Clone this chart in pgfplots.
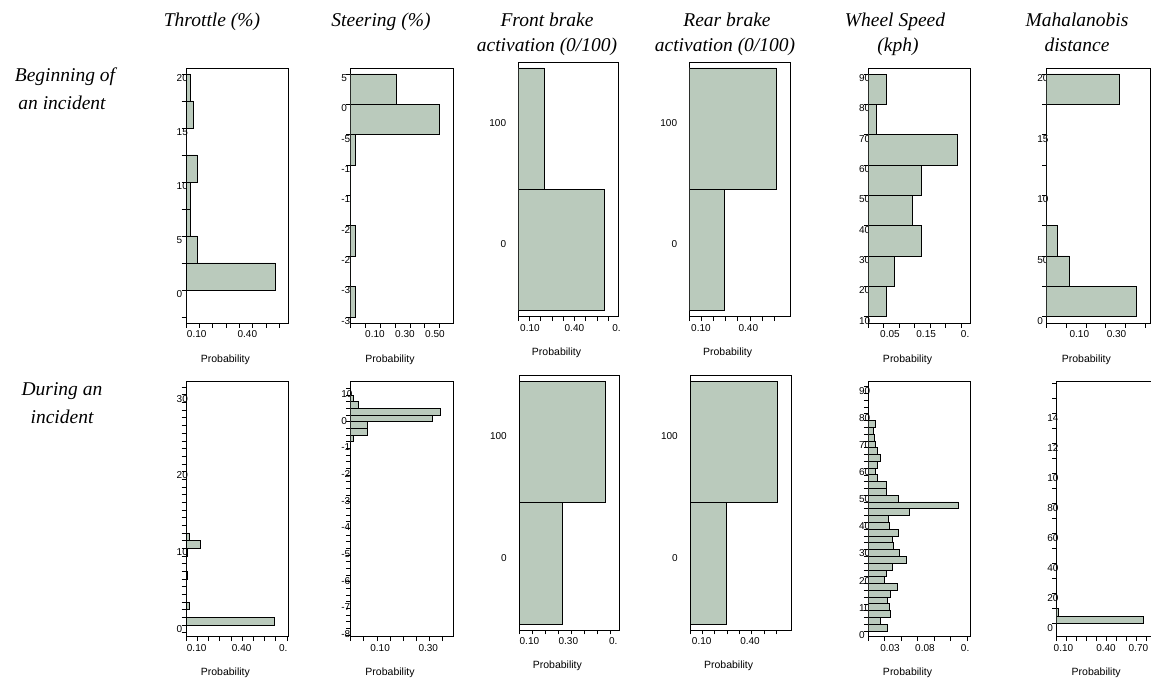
\documentclass[border=0pt]{standalone}
\usepackage{fontspec}
\setmainfont{Liberation Sans}
\newfontfamily\titlefont{Liberation Serif}
\usepackage{pgfplots}
\pgfplotsset{compat=1.18}
\definecolor{sage}{RGB}{186,202,188}
\pgfplotsset{
  panel/.style={
    scale only axis, anchor=north west,
    enlargelimits=false, xmin=0,
    axis line style={line width=0.8pt},
    tick align=outside, xtick pos=bottom, ytick pos=left,
    major tick length=4.5pt,
    tick style={black, line width=0.6pt},
    xticklabels={}, yticklabels={},
    extra x tick style={major tick length=0pt},
    extra y tick style={major tick length=0pt},
    ticklabel style={font=\fontsize{10}{12}\selectfont},
    xticklabel style={anchor=north, inner sep=0pt, yshift=-7.5pt},
    yticklabel style={anchor=west, inner sep=0pt, xshift=-9.5pt, yshift=-4pt},
    xlabel={Probability},
    xlabel style={at={(axis description cs:0.5,0)}, anchor=center, yshift=-36pt, xshift=-12pt, font=\fontsize{10.5}{12}\selectfont},
  },
  brake/.style={
    ymin=-54.9, ymax=154.7, ytick=\empty,
    extra y ticks={4.7,104.9}, extra y tick labels={0,100},
    yticklabel style={anchor=east, xshift=-2.5pt, yshift=4pt},
  },
  bar/.style={xbar interval, fill=sage, draw=black, line width=0.7pt},
}
\begin{document}
\begin{tikzpicture}
\path[use as bounding box] (0,0) rectangle (1151pt,680pt);
% titles
\begin{scope}[every node/.style={anchor=base, font=\titlefont\itshape\fontsize{19.5}{24}\selectfont}]
\node at (212pt,653.5pt) {Throttle (\%)};
\node at (381pt,653.5pt) {Steering (\%)};
\node at (547pt,653.5pt) {Front brake};
\node at (547pt,628pt) {activation (0/100)};
\node at (727pt,653.5pt) {Rear brake};
\node at (725pt,628pt) {activation (0/100)};
\node at (895pt,653.5pt) {Wheel Speed};
\node at (898pt,628pt) {(kph)};
\node at (1077pt,653.5pt) {Mahalanobis};
\node at (1077pt,628pt) {distance};
\node at (65pt,598pt) {Beginning of};
\node at (62pt,570pt) {an incident};
\node at (62pt,284pt) {During an};
\node at (62pt,256pt) {incident};
\end{scope}

% ---------- Row 1 ----------
\begin{axis}[panel, at={(186pt,611.7pt)}, width=102.7pt, height=255pt,
  xmax=0.77, ymin=-3.09, ymax=20.52,
  xtick={0,0.1,0.2,0.3,0.4,0.5,0.6,0.7},
  extra x ticks={0.08,0.46}, extra x tick labels={0.10,0.40},
  ytick={-2.5,0,2.5,5,7.5,10,12.5,15,17.5,20},
  extra y ticks={0,5,10,15,20}, extra y tick labels={0,5,10,15,20}]
\addplot[bar] coordinates {(0,-2.5) (0.67,0) (0.083,2.5) (0.03,5) (0.03,7.5) (0.083,10) (0,12.5) (0.055,15) (0.03,17.5) (0,20)};
\end{axis}

\begin{axis}[panel, at={(350.7pt,611.7pt)}, width=102.6pt, height=255pt,
  xmax=0.694, ymin=-36.06, ymax=5.93,
  xtick={0,0.1,0.2,0.3,0.4,0.5,0.6},
  extra x ticks={0.164,0.367,0.57}, extra x tick labels={0.10,0.30,0.50},
  ytick={-35,-30,-25,-20,-15,-10,-5,0,5},
  extra y ticks={5,0,-5,-10,-15,-20,-25,-30,-35}, extra y tick labels={5,0,-5,-1,-1,-2,-2,-3,-3}]
\addplot[bar] coordinates {(0.03,-35) (0,-30) (0.03,-25) (0,-20) (0,-15) (0.03,-10) (0.6,-5) (0.31,0) (0,5)};
\end{axis}

\begin{axis}[panel, brake, at={(518.3pt,617.7pt)}, width=100.4pt, height=254.4pt,
  xmax=0.895,
  xtick={0,0.1,0.2,0.3,0.4,0.5,0.6,0.7,0.8},
  extra x ticks={0.104,0.5,0.875}, extra x tick labels={0.10,0.40,0.}]
\addplot[bar] coordinates {(0.77,-50) (0.23,50) (0,150)};
\end{axis}

\begin{axis}[panel, brake, at={(689.3pt,617.7pt)}, width=100.7pt, height=254.4pt,
  xmax=0.832,
  xtick={0,0.1,0.2,0.3,0.4,0.5,0.6,0.7},
  extra x ticks={0.096,0.488}, extra x tick labels={0.10,0.40}]
\addplot[bar] coordinates {(0.29,-50) (0.716,50) (0,150)};
\end{axis}

\begin{axis}[panel, at={(868.3pt,611.7pt)}, width=102.4pt, height=255pt,
  xmax=0.331, ymin=7.8, ymax=91.9,
  xtick={0,0.05,0.1,0.15,0.2,0.25,0.3},
  extra x ticks={0.07,0.187,0.313}, extra x tick labels={0.05,0.15,0.},
  ytick={10,20,30,40,50,60,70,80,90},
  extra y ticks={10,20,30,40,50,60,70,80,90}, extra y tick labels={10,20,30,40,50,60,70,80,90}]
\addplot[bar] coordinates {(0.057,10) (0.084,20) (0.172,30) (0.141,40) (0.172,50) (0.288,60) (0.027,70) (0.057,80) (0,90)};
\end{axis}

\begin{axis}[panel, at={(1046.7pt,611.7pt)}, width=103.3pt, height=255pt,
  xmax=0.525, ymin=-0.55, ymax=20.47,
  xtick={0,0.1,0.2,0.3,0.4,0.5},
  extra x ticks={0.166,0.355}, extra x tick labels={0.10,0.30},
  ytick={0,2.5,5,7.5,10,12.5,15,17.5,20},
  extra y ticks={0,5,10,15,20}, extra y tick labels={0,50,10,15,20}]
\addplot[bar] coordinates {(0.457,0) (0.115,2.5) (0.054,5) (0,7.5) (0,10) (0,12.5) (0,15) (0.369,17.5) (0,20)};
\end{axis}

% ---------- Row 2 ----------
\begin{axis}[panel, at={(186pt,298.3pt)}, width=102.7pt, height=255pt,
  xmax=0.917, ymin=-1.52, ymax=31.7,
  xtick={0,0.1,0.2,0.3,0.4,0.5,0.6,0.7,0.8,0.9},
  extra x ticks={0.095,0.497,0.869}, extra x tick labels={0.10,0.40,0.},
  ytick={-1,0,...,31},
  extra y ticks={0,10,20,30}, extra y tick labels={0,10,20,30}]
\addplot[bar] coordinates {(0.79,0) (0,1) (0.027,2) (0,3) (0,4) (0,5) (0.012,6) (0,7) (0,8) (0.012,9) (0.131,10) (0.027,11) (0,12)};
\end{axis}

\begin{axis}[panel, at={(350.7pt,298.3pt)}, width=102.6pt, height=255pt,
  xmax=0.471, ymin=-80.6, ymax=15,
  xtick={0,0.06,0.12,0.18,0.24,0.30,0.36,0.42},
  extra x ticks={0.135,0.356}, extra x tick labels={0.10,0.30},
  ytick={-80,-77.5,...,12.5},
  yticklabel style={yshift=5pt},
  extra y ticks={10,0,-10,-20,-30,-40,-50,-60,-70,-80}, extra y tick labels={10,0,-1,-2,-3,-4,-5,-6,-7,-8}]
\addplot[bar] coordinates {(0.012,-7.5) (0.078,-5) (0.078,-2.5) (0.375,0) (0.41,2.5) (0.035,5) (0.012,7.5) (0,10)};
\end{axis}

\begin{axis}[panel, brake, at={(519pt,304.3pt)}, width=100.7pt, height=254.3pt,
  xmax=0.775,
  xtick={0,0.1,0.2,0.3,0.4,0.5,0.6,0.7},
  extra x ticks={0.08,0.38,0.725}, extra x tick labels={0.10,0.30,0.}]
\addplot[bar] coordinates {(0.335,-50) (0.665,50) (0,150)};
\end{axis}

\begin{axis}[panel, brake, at={(690pt,304.3pt)}, width=101.3pt, height=254.3pt,
  xmax=0.822,
  xtick={0,0.1,0.2,0.3,0.4,0.5,0.6,0.7},
  extra x ticks={0.095,0.487}, extra x tick labels={0.10,0.40}]
\addplot[bar] coordinates {(0.292,-50) (0.708,50) (0,150)};
\end{axis}

\begin{axis}[panel, at={(868.3pt,298.3pt)}, width=102.4pt, height=255pt,
  xmax=0.1555, ymin=-2.1, ymax=91.8,
  xtick={0,0.025,0.05,0.075,0.1,0.125,0.15},
  extra x ticks={0.033,0.086,0.147}, extra x tick labels={0.03,0.08,0.},
  ytick={0,2.5,...,90},
  extra y ticks={0,10,20,30,40,50,60,70,80,90}, extra y tick labels={0,10,20,30,40,50,60,70,80,90}]
\addplot[bar] coordinates {(0.029,0) (0.018,2.5) (0.034,5) (0.032,7.5) (0.029,10) (0.034,12.5) (0.044,15) (0.025,17.5) (0.027,20) (0.036,22.5) (0.058,25) (0.047,27.5) (0.038,30) (0.036,32.5) (0.046,35) (0.032,37.5) (0.030,40) (0.062,42.5) (0.136,45) (0.046,47.5) (0.027,50) (0.027,52.5) (0.013,55) (0.011,57.5) (0.013,60) (0.018,62.5) (0.013,65) (0.011,67.5) (0.009,70) (0.007,72.5) (0.011,75) (0,77.5)};
\end{axis}

\begin{axis}[panel, at={(1056.7pt,298.3pt)}, width=103pt, height=255pt,
  xmax=1.04, ymin=-8.67, ymax=161.3,
  xtick={0,0.1,0.2,0.3,0.4,0.5,0.6,0.7,0.8,0.9,1.0},
  extra x ticks={0.068,0.498,0.825}, extra x tick labels={0.10,0.40,0.70},
  ytick={0,10,...,160},
  extra y ticks={0,20,40,60,80,100,120,140}, extra y tick labels={0,20,40,60,80,10,12,14}]
\addplot[bar] coordinates {(0.876,0) (0.017,5) (0,10)};
\end{axis}
\end{tikzpicture}
\end{document}
